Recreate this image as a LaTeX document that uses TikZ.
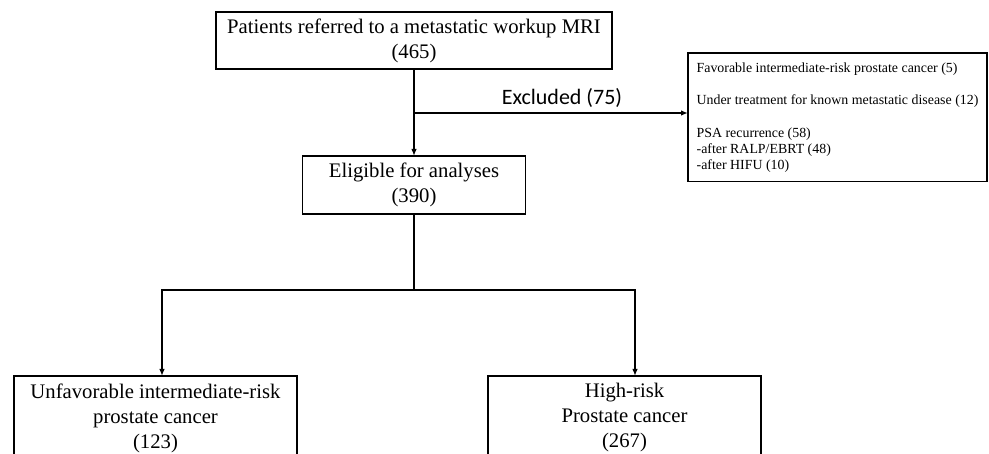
\documentclass[tikz,border=0pt]{standalone}
\usepackage{fontspec}
\setmainfont{Liberation Serif}
\newfontfamily\calfont{Carlito}
\usepackage{xcolor}
\usetikzlibrary{arrows.meta, positioning}

\begin{document}
\begin{tikzpicture}[
    x=1pt, y=-1pt,
    box/.style    = {rectangle, draw, line width=1.5pt, outer sep=0pt,
                     align=center, inner sep=0pt,
                     font=\fontsize{20.7}{25}\selectfont},
    exclbox/.style = {box, align=left,
                     font=\fontsize{13.9}{16}\selectfont},
    lbl/.style    = {font=\calfont\fontsize{22}{26}\selectfont, inner sep=0pt},
    arrow/.style  = {-{Latex[length=7pt,width=5.5pt]}, line width=1.5pt}
]
\useasboundingbox (0,0) rectangle (989,454);
\clip (0,0) rectangle (989,454);

% ========= main column =========
\node[box, minimum width=396pt, minimum height=57pt] (top) at (414,40.5)
    {Patients referred to a metastatic workup MRI\\(465)};
\node[box, minimum width=223pt, minimum height=58pt, below=87pt of top] (elig)
    {Eligible for analyses\\(390)};

% ========= exclusions =========
\node[exclbox, minimum width=299pt, minimum height=128.5pt] (excl) at (837.5,117.5)
    {Favorable intermediate-risk prostate cancer (5)\\[16pt]
     Under treatment for known metastatic disease (12)\\[17pt]
     PSA recurrence (58)\\
     -after RALP/EBRT (48)\\
     -after HIFU (10)};
\coordinate (branch) at (414,113);
\node[lbl] (excllbl) at (562,98) {Excluded (75)};

% ========= risk groups =========
\node[box, minimum width=283pt, minimum height=84pt] (unfav) at (155.5,418)
    {Unfavorable intermediate-risk\\prostate cancer\\(123)};
\node[box, minimum width=273pt, minimum height=84pt] (high) at (624.5,418)
    {High-risk\\Prostate cancer\\(267)};
\coordinate (fork) at (414,290);

\draw[arrow] (top) -- (elig);
\draw[arrow] (branch) -- (branch -| excl.west);
\draw[line width=1.5pt] (elig) -- (fork);
\draw[arrow] (fork) -| ([xshift=6.5pt]unfav.north);
\draw[arrow] (fork) -| ([xshift=10.5pt]high.north);

\end{tikzpicture}
\end{document}
